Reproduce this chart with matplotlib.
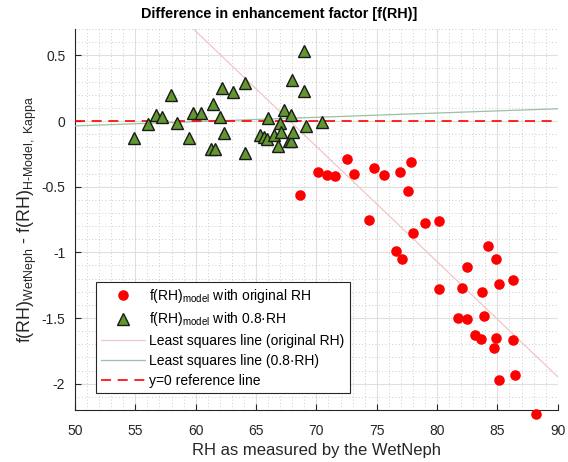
import numpy as np
import matplotlib
matplotlib.use("Agg")
import matplotlib.pyplot as plt
from matplotlib.ticker import MultipleLocator

plt.rcParams['font.family'] = ['Liberation Sans', 'DejaVu Sans']
plt.rcParams['mathtext.fontset'] = 'custom'
plt.rcParams['mathtext.rm'] = 'Liberation Sans'
plt.rcParams['mathtext.it'] = 'Liberation Sans:italic'
plt.rcParams['axes.unicode_minus'] = False

# RH measured by the WetNeph and the resulting f(RH) difference (original RH)
rh_orig = [68.68, 70.12, 70.92, 71.58, 72.52, 73.10, 74.34, 74.75, 75.64, 76.63,
           76.90, 77.10, 77.60, 77.80, 77.98, 78.97, 80.16, 80.20, 81.73, 82.10,
           82.50, 82.50, 83.17, 83.64, 83.75, 83.90, 84.20, 84.69, 84.85, 84.90,
           85.10, 85.12, 86.26, 86.30, 86.46, 88.16]
diff_orig = [-0.56, -0.39, -0.41, -0.42, -0.29, -0.40, -0.756, -0.36, -0.41, -0.99,
             -0.39, -1.05, -0.53, -0.31, -0.855, -0.78, -0.76, -1.28, -1.50, -1.27,
             -1.11, -1.51, -1.63, -1.66, -1.30, -1.486, -0.95, -1.73, -1.05, -1.65,
             -1.24, -1.97, -1.21, -1.67, -1.93, -2.23]

# Same comparison with the model driven by 0.8*RH
rh_scaled = [54.90, 56.05, 56.68, 57.22, 57.98, 58.44, 59.44, 59.76, 60.47, 61.27,
             61.47, 61.62, 62.04, 62.19, 62.32, 63.12, 64.06, 64.12, 65.32, 65.62,
             65.93, 65.96, 66.49, 66.84, 66.95, 67.06, 67.30, 67.72, 67.86, 67.89,
             68.02, 68.07, 68.95, 69.01, 69.12, 70.48]
diff_scaled = [-0.13, -0.026, 0.044, 0.03, 0.20, -0.013, -0.13, 0.059, 0.064, -0.21,
               0.13, -0.21, 0.033, 0.25, -0.09, 0.22, 0.29, -0.24, -0.11, -0.12,
               -0.135, 0.02, -0.11, -0.19, -0.013, -0.087, 0.08, -0.15, -0.15, 0.046,
               0.31, -0.087, 0.53, 0.23, -0.04, -0.01]

x_ticks = [50, 55, 60, 65, 70, 75, 80, 85, 90]
y_ticks = [-2, -1.5, -1, -0.5, 0, 0.5]
y_tick_labels = ['-2', '-1.5', '-1', '-0.5', '0', '0.5']

fig = plt.figure(figsize=(5.68, 4.62), dpi=100)
ax = fig.add_axes([0.132, 0.1126, 0.850, 0.8245])

ax.set_xlim(50, 90)
ax.set_ylim(-2.2, 0.7)

# Least-squares fits over the full RH range
x_fit = np.linspace(50, 90, 200)
p_orig = np.polyfit(rh_orig, diff_orig, 1)
p_scaled = np.polyfit(rh_scaled, diff_scaled, 1)

ax.plot(rh_orig, diff_orig, 'o', color='#ff0000', markersize=7.6, markeredgewidth=0,
        label=r'f(RH)$_{\mathrm{model}}$ with original RH', zorder=4, clip_on=False)
ax.plot(rh_scaled, diff_scaled, '^', color='#62962f', markeredgecolor='#1a1a1a',
        markersize=8.5, markeredgewidth=1.0,
        label='f(RH)$_{\\mathrm{model}}$ with 0.8\u00b7RH', zorder=4)
ax.plot(x_fit, np.polyval(p_orig, x_fit), '-', color='#f0c6c6', linewidth=0.9,
        label='Least squares line (original RH)', zorder=3)
ax.plot(x_fit, np.polyval(p_scaled, x_fit), '-', color='#9dbfa5', linewidth=0.9,
        label='Least squares line (0.8\u00b7RH)', zorder=3)
ax.plot([50, 90], [0, 0], '--', color='#ff0000', linewidth=1.2, dashes=(6, 4),
        label='y=0 reference line', zorder=3)

ax.set_xticks(x_ticks)
ax.set_yticks(y_ticks)
ax.set_yticklabels(y_tick_labels)
ax.xaxis.set_minor_locator(MultipleLocator(1))
ax.yaxis.set_minor_locator(MultipleLocator(0.1))
ax.grid(True, which='major', color='#dfdfdf', linewidth=0.8, linestyle='-')
ax.grid(True, which='minor', color='#bdbdbd', linewidth=0.6, linestyle=(0, (1, 3)))
ax.set_axisbelow(True)

for side in ('top', 'right'):
    ax.spines[side].set_visible(False)
for side in ('left', 'bottom'):
    ax.spines[side].set_color('#262626')
    ax.spines[side].set_linewidth(0.8)
ax.tick_params(which='major', direction='in', length=4, width=0.8, colors='#262626',
               labelsize=10, labelcolor='#262626')
ax.tick_params(which='minor', direction='in', length=0)
ax.tick_params(axis='x', pad=10)
ax.tick_params(axis='y', pad=7)

ax.set_title('Difference in enhancement factor [f(RH)]', fontsize=10.4, fontweight='bold',
             color='black', x=0.422, pad=8)
ax.set_xlabel('RH as measured by the WetNeph', fontsize=12, color='#262626', labelpad=4)
ax.set_ylabel('f(RH)$_{\\mathrm{WetNeph}}$ - f(RH)$_{\\mathrm{H\u2010Model,\\ Kappa}}$',
              fontsize=12.8, color='#262626', labelpad=2)

leg = ax.legend(loc='lower left', bbox_to_anchor=(0.0435, 0.045), fontsize=10,
                frameon=True, fancybox=False, edgecolor='#262626', framealpha=1,
                borderpad=0.35, labelspacing=0.42, handlelength=3.2, handletextpad=0.3,
                borderaxespad=0)
leg.get_frame().set_linewidth(0.8)

fig.savefig('out.png', dpi=100)
